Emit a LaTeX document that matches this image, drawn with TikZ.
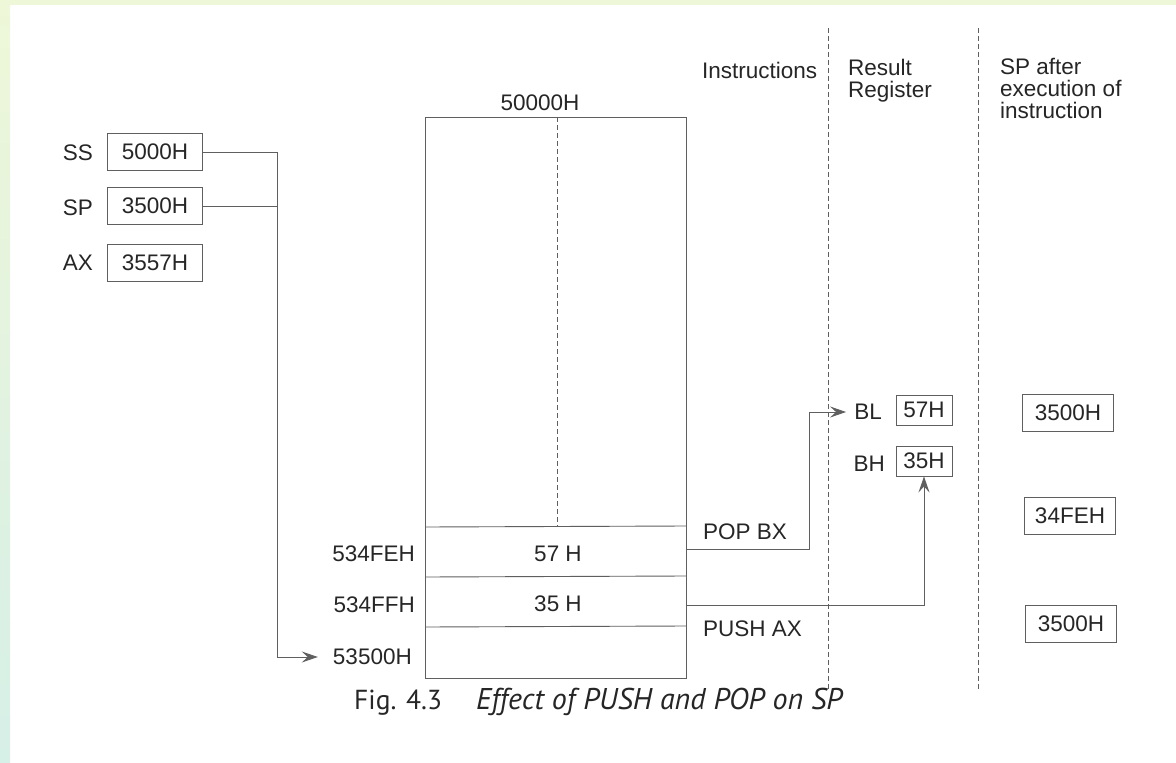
\documentclass[tikz,border=0pt]{standalone}
\usepackage{fontspec}
\setmainfont{Liberation Sans}
\newfontfamily\capfont{PT Sans}
\usetikzlibrary{arrows.meta}
\definecolor{frameTop}{RGB}{238,247,216}
\definecolor{frameLow}{RGB}{214,239,231}
\definecolor{ink}{RGB}{38,38,38}
\definecolor{rule}{RGB}{95,95,95}

\begin{document}
\begin{tikzpicture}[x=1pt,y=-1pt,
  every node/.style={text=ink,font=\fontsize{22.5}{22}\selectfont},
  txt/.style={inner sep=0pt},
  regbox/.style={draw=rule,line width=0.9pt,minimum width=95pt,minimum height=37pt,inner sep=0pt},
  smallbox/.style={draw=rule,line width=0.9pt,minimum width=56pt,minimum height=30pt,inner sep=0pt},
  spbox/.style={draw=rule,line width=0.9pt,minimum width=91pt,minimum height=37pt,inner sep=0pt},
  line/.style={rule,line width=0.9pt},
  arr/.style={line,-{Stealth[length=16pt,width=11pt,inset=6pt]}},
  sep/.style={rule,line width=0.8pt,dash pattern=on 5pt off 3pt}]
  \useasboundingbox (0,0) rectangle (1176,763);
  \fill[white] (0,0) rectangle (1176,763);

  % page frame
  \shade[top color=frameTop,bottom color=frameLow] (0,0) rectangle (10,763);
  \fill[frameTop] (0,0) rectangle (1176,5);

  % registers
  \node[txt,anchor=east] (ssl) at (93,153) {SS};
  \node[regbox] (ss) at (155,152) {5000H};
  \node[txt,anchor=east] (spl) at (93,208) {SP};
  \node[regbox] (sp) at (155,206) {3500H};
  \node[txt,anchor=east] (axl) at (93,263) {AX};
  \node[regbox] (ax) at (155,263) {3557H};

  % column headings
  \node[txt,anchor=north west] (hins) at (702,62) {Instructions};
  \node[txt,anchor=north west,align=left] (hres) at (848,59) {Result\\Register};
  \node[txt,anchor=north west,align=left] (hsp) at (1000,58) {SP after\\execution of\\instruction};
  \draw[sep] (828,28) -- (828,690);
  \draw[sep] (978,28) -- (978,690);

  % stack segment
  \node[txt,anchor=base] (base) at (540,110) {50000H};
  \draw[line] (425,117) rectangle (686,678);
  \draw[sep] (557,117) -- (557,527);
  \draw[line] (425,527) -- (686,526);
  \draw[line] (425,577) -- (686,576);
  \draw[line] (425,627) -- (686,626);
  \node (m1) at (558,554) {57 H};
  \node (m2) at (558,604) {35 H};
  \node[txt,anchor=east] (a1) at (415,554) {534FEH};
  \node[txt,anchor=east] (a2) at (415,605) {534FFH};
  \node[txt,anchor=east] (a3) at (412,657) {53500H};

  % SS:SP -> physical address
  \coordinate (bus) at (277,657);
  \draw[line] (ss.east) -| (bus);
  \draw[line] (sp.east) -- (sp.east -| bus);
  \draw[arr,shorten >=15pt] (bus) -- (a3.west);

  % instructions
  \node[txt,anchor=base west] (pop) at (703,539) {POP BX};
  \node[txt,anchor=base west] (push) at (703,636) {PUSH AX};

  % result register
  \node[txt,anchor=east] (bl) at (882,412) {BL};
  \node[smallbox] (blv) at (924,410) {57H};
  \node[txt,anchor=east] (bh) at (885,464) {BH};
  \node[smallbox] (bhv) at (924,461) {35H};

  \coordinate (popout) at (686,549);
  \coordinate (pushout) at (686,605);
  \draw[arr,shorten >=8pt] (popout) -- (809,549) |- (bl.west);
  \draw[arr] (pushout) -| (bhv.south);

  % SP after execution
  \node[spbox] (sp1) at (1068,413) {3500H};
  \node[spbox] (sp2) at (1070,516) {34FEH};
  \node[spbox] (sp3) at (1071,624) {3500H};

  % caption
  \node[txt,anchor=base west,font=\capfont\fontsize{27.5}{30}\selectfont] (cap) at (354,709)
    {Fig. 4.3\hspace{34pt}{\fontsize{30}{30}\selectfont\itshape Effect of PUSH and POP on SP}};
\end{tikzpicture}
\end{document}
